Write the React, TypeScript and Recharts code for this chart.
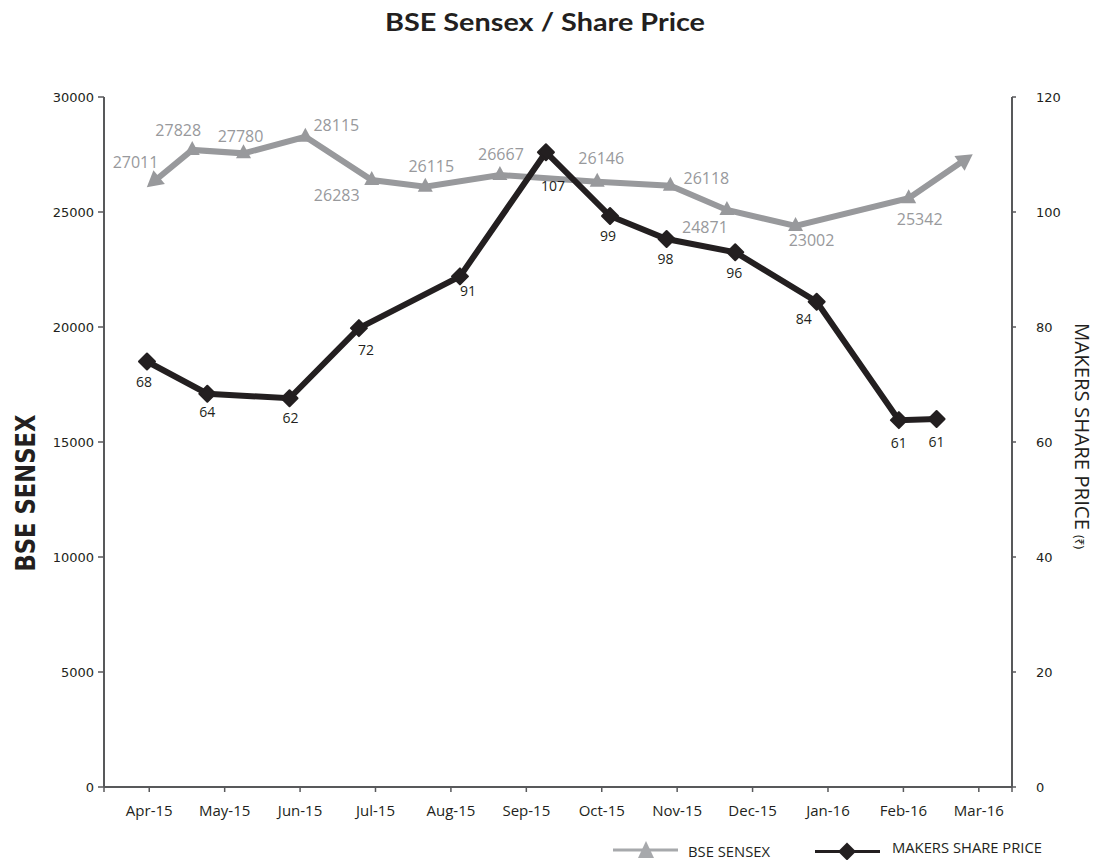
import React from 'react';
import { LineChart, Line, XAxis, YAxis, Customized } from 'recharts';

// ---------- data ----------
const months = ['Apr-15', 'May-15', 'Jun-15', 'Jul-15', 'Aug-15', 'Sep-15', 'Oct-15', 'Nov-15', 'Dec-15', 'Jan-16', 'Feb-16', 'Mar-16'];

// BSE Sensex: position along the month axis, plotted level, printed value
const sensexX = [0.07, 0.57, 1.25, 2.07, 2.95, 3.66, 4.65, 5.94, 6.91, 7.66, 8.57, 10.07, 10.81];
const sensexY = [26350, 27700, 27550, 28270, 26390, 26100, 26610, 26320, 26140, 25090, 24390, 25600, 27260];
const sensexLabels = [27011, 27828, 27780, 28115, 26283, 26115, 26667, 26146, 26118, 24871, 23002, 25342, null];

// Makers share price
const makersX = [-0.03, 0.77, 1.86, 2.78, 4.12, 5.26, 6.11, 6.86, 7.77, 8.85, 9.94, 10.44];
const makersY = [74.0, 68.4, 67.6, 79.8, 88.8, 110.4, 99.3, 95.3, 93.0, 84.4, 63.8, 64.0];
const makersLabels = [68, 64, 62, 72, 91, 107, 99, 98, 96, 84, 61, 61];

const leftTicks = [0, 5000, 10000, 15000, 20000, 25000, 30000];
const rightTicks = [0, 20, 40, 60, 80, 100, 120];

// label placement (relative to the point, px)
const sensexLabelOffsets = [[-19, -19], [-14, -20], [-3, -17], [31, -12], [-35, 15], [6, -20], [1, -21], [4, -23], [36, -8], [-22, 17], [16, 14], [11, 21], [0, 0]];
const makersLabelOffsets = [[-3, 20], [0, 18], [1, 20], [7, 22], [8, 15], [7, 34], [-2, 20], [-1, 20], [-1, 21], [-13, 17], [0, 23], [0, 23]];

const sensexData = sensexX.map((x, i) => ({ x, y: sensexY[i] }));
const makersData = makersX.map((x, i) => ({ x, y: makersY[i] }));

// ---------- layout ----------
const W = 1095;
const H = 860;
const PLOT_LEFT = 104;
const PLOT_RIGHT = 1012;
const PLOT_TOP = 97;
const PLOT_BOTTOM = 787;
const X_MIN = -0.6;
const X_MAX = 11.44;
const PX_PER_X = (PLOT_RIGHT - PLOT_LEFT) / (X_MAX - X_MIN);
const PX_PER_Y = (PLOT_BOTTOM - PLOT_TOP) / 30000;

const GRAY = '#98999c';
const DARK = '#231f20';
const AXIS = '#58595b';

const xTicks = [X_MIN, ...months.map((_, i) => i), X_MAX];

const renderTriangle = (props: any) => {
  const { cx, cy, index } = props;
  if (cx == null || cy == null) return <g key={`t${index}`} />;
  const last = sensexData.length - 1;
  if (index === 0 || index === last) {
    const a = index === 0 ? sensexData[1] : sensexData[last - 1];
    const b = sensexData[index];
    const dx = (b.x - a.x) * PX_PER_X;
    const dy = -(b.y - a.y) * PX_PER_Y;
    const ang = (Math.atan2(dy, dx) * 180) / Math.PI;
    return (
      <path
        key={`t${index}`}
        d={`M ${cx + 10} ${cy} L ${cx - 6} ${cy - 9} L ${cx - 6} ${cy + 9} Z`}
        transform={`rotate(${ang} ${cx} ${cy})`}
        fill={GRAY}
      />
    );
  }
  return <path key={`t${index}`} d={`M ${cx} ${cy - 9} L ${cx + 7.5} ${cy + 5} L ${cx - 7.5} ${cy + 5} Z`} fill={GRAY} />;
};

const renderDiamond = (props: any) => {
  const { cx, cy, index } = props;
  if (cx == null || cy == null) return <g key={`d${index}`} />;
  const r = 8;
  return (
    <path
      key={`d${index}`}
      d={`M ${cx} ${cy - r} L ${cx + r} ${cy} L ${cx} ${cy + r} L ${cx - r} ${cy} Z`}
      fill={DARK}
      stroke={DARK}
      strokeWidth={2}
      strokeLinejoin="round"
    />
  );
};

const renderSensexLabel = (props: any) => {
  const { x, y, index } = props;
  const v = sensexLabels[index];
  if (v == null) return <g key={`sl${index}`} />;
  const [ox, oy] = sensexLabelOffsets[index];
  return (
    <text key={`sl${index}`} x={x + ox} y={y + oy} dy="0.36em" textAnchor="middle" fontFamily="Open Sans" fontSize={16} fill={GRAY}>
      {v}
    </text>
  );
};

const renderMakersLabel = (props: any) => {
  const { x, y, index } = props;
  const v = makersLabels[index];
  if (v == null) return <g key={`ml${index}`} />;
  const [ox, oy] = makersLabelOffsets[index];
  return (
    <text key={`ml${index}`} x={x + ox} y={y + oy} dy="0.36em" textAnchor="middle" fontFamily="Open Sans" fontSize={14} fill={DARK}>
      {v}
    </text>
  );
};

const Decorations = () => (
  <g>
    <text x={545} y={31} textAnchor="middle" fontFamily="Lato" fontWeight="bold" fontSize={25} textLength={320} lengthAdjust="spacingAndGlyphs" fill={DARK}>
      BSE Sensex / Share Price
    </text>
    <text
      x={35}
      y={493}
      textAnchor="middle"
      transform="rotate(-90 35 493)"
      fontFamily="DejaVu Sans Condensed, DejaVu Sans"
      fontWeight="bold"
      fontSize={27}
      textLength={157}
      lengthAdjust="spacingAndGlyphs"
      fill={DARK}
    >
      BSE SENSEX
    </text>
    <g transform="rotate(90 1075 323)">
      <text x={1075} y={323} fontFamily="Open Sans" fontSize={20} textLength={207} lengthAdjust="spacingAndGlyphs" fill={DARK}>
        MAKERS SHARE PRICE
      </text>
      <text x={1287} y={323} fontFamily="Noto Sans, DejaVu Sans" fontSize={12} fill={DARK}>
        (₹)
      </text>
    </g>
    {/* legend */}
    <line x1={613} y1={850} x2={678} y2={850} stroke="#a7a9ac" strokeWidth={3} />
    <path d="M 646 841 L 654 858 L 638 858 Z" fill="#a7a9ac" />
    <text x={688} y={857} fontFamily="Open Sans" fontSize={15} textLength={82} lengthAdjust="spacingAndGlyphs" fill={DARK}>
      BSE SENSEX
    </text>
    <line x1={815} y1={851.5} x2={880} y2={851.5} stroke={DARK} strokeWidth={3} />
    <path d="M 847 842.5 L 856 851.5 L 847 860.5 L 838 851.5 Z" fill={DARK} />
    <text x={892} y={853} fontFamily="Open Sans" fontSize={15} textLength={150} lengthAdjust="spacingAndGlyphs" fill={DARK}>
      MAKERS SHARE PRICE
    </text>
  </g>
);

export default function App() {
  return (
    <div style={{ position: 'fixed', left: 0, top: 0, width: W, height: H, background: '#fff' }}>
      <LineChart width={W} height={H} margin={{ top: PLOT_TOP, right: 0, bottom: 0, left: 0 }}>
        <XAxis
          dataKey="x"
          type="number"
          domain={[X_MIN, X_MAX]}
          ticks={xTicks}
          interval={0}
          allowDataOverflow
          tickFormatter={(v: number) => (Number.isInteger(v) ? months[v] : '')}
          height={H - PLOT_BOTTOM}
          tickSize={5}
          tickMargin={13}
          axisLine={{ stroke: AXIS, strokeWidth: 2 }}
          tickLine={{ stroke: AXIS, strokeWidth: 1.5 }}
          tick={{ fill: DARK, fontSize: 15, fontFamily: 'Open Sans' }}
        />
        <YAxis
          yAxisId="left"
          orientation="left"
          width={PLOT_LEFT}
          domain={[0, 30000]}
          ticks={leftTicks}
          interval={0}
          tickSize={6}
          tickMargin={4}
          axisLine={{ stroke: AXIS, strokeWidth: 2 }}
          tickLine={{ stroke: AXIS, strokeWidth: 1.5 }}
          tick={{ fill: DARK, fontSize: 13, fontFamily: 'DejaVu Sans' }}
        />
        <YAxis
          yAxisId="right"
          orientation="right"
          width={W - PLOT_RIGHT}
          domain={[0, 120]}
          ticks={rightTicks}
          interval={0}
          tickSize={4}
          tickMargin={20}
          axisLine={{ stroke: AXIS, strokeWidth: 2 }}
          tickLine={{ stroke: AXIS, strokeWidth: 1.5 }}
          tick={{ fill: DARK, fontSize: 13, fontFamily: 'DejaVu Sans', textAnchor: 'start' }}
        />
        <Line
          yAxisId="left"
          data={sensexData}
          dataKey="y"
          type="linear"
          stroke={GRAY}
          strokeWidth={6}
          dot={renderTriangle}
          activeDot={false}
          label={renderSensexLabel}
          isAnimationActive={false}
        />
        <Line
          yAxisId="right"
          data={makersData}
          dataKey="y"
          type="linear"
          stroke={DARK}
          strokeWidth={6}
          dot={renderDiamond}
          activeDot={false}
          label={renderMakersLabel}
          isAnimationActive={false}
        />
        <Customized component={Decorations} />
      </LineChart>
    </div>
  );
}
